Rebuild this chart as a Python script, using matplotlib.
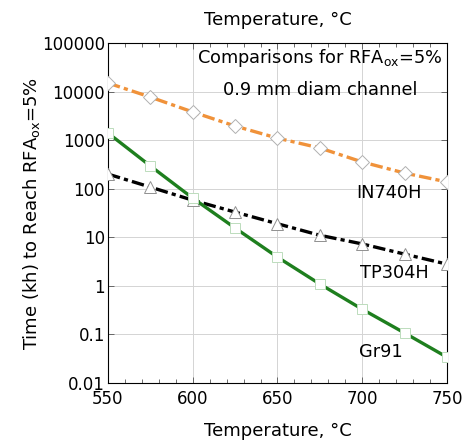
import matplotlib
matplotlib.use("Agg")
import matplotlib.pyplot as plt
from matplotlib.ticker import MultipleLocator, FixedLocator, NullLocator

temps = [550, 575, 600, 625, 650, 675, 700, 725, 750]
in740h = [15000, 7700, 3800, 1950, 1100, 690, 355, 210, 138]
tp304h = [200, 108, 58, 33, 19, 11, 7.3, 4.5, 2.8]
gr91 = [1400, 294, 64, 15.5, 3.9, 1.09, 0.33, 0.107, 0.034]

x_ticks = [550, 600, 650, 700, 750]
y_ticks = [0.01, 0.1, 1, 10, 100, 1000, 10000, 100000]
y_tick_labels = ["0.01", "0.1", "1", "10", "100", "1000", "10000", "100000"]

plt.rcParams['font.family'] = ['DejaVu Sans']
plt.rcParams['lines.scale_dashes'] = False


def main():
    fig = plt.figure(figsize=(4.77, 4.41), dpi=100)
    ax = fig.add_axes([0.2264, 0.1315, 0.7107, 0.771])

    ax.plot(temps, in740h, color='#F0923A', lw=2.4, dashes=(9, 3, 3, 3),
            marker='D', ms=7.5, mfc='white', mec='#b0b0b0', mew=0.7, zorder=3)
    ax.plot(temps, tp304h, color='black', lw=2.4, dashes=(9, 3, 3, 3),
            marker='^', ms=8, mfc='white', mec='#909090', mew=0.7, zorder=3)
    ax.plot(temps, gr91, color='#1E7F1E', lw=2.4,
            marker='s', ms=7.5, mfc='white', mec='#bcdcbc', mew=0.7, zorder=3)

    ax.set_yscale('log')
    ax.set_xlim(550, 750)
    ax.set_ylim(0.01, 100000)
    ax.xaxis.set_major_locator(FixedLocator(x_ticks))
    ax.xaxis.set_minor_locator(MultipleLocator(10))
    ax.yaxis.set_major_locator(FixedLocator(y_ticks))
    ax.yaxis.set_minor_locator(NullLocator())
    ax.set_yticklabels(y_tick_labels)
    ax.tick_params(which='both', direction='in', top=True, right=True,
                   labelsize=12, width=0.6, color='#555555')
    ax.tick_params(axis='x', pad=5)
    ax.tick_params(axis='y', pad=2)
    ax.tick_params(which='major', length=4)
    ax.tick_params(which='minor', length=3)
    ax.grid(True, which='major', color='#d4d4d4', lw=0.7)

    for s in ax.spines.values():
        s.set_linewidth(0.8)

    ax.set_xlabel("Temperature, °C", fontsize=13, labelpad=10)
    ax.set_ylabel("Time (kh) to Reach RFA$_{\\mathregular{ox}}$=5%", fontsize=13)
    ax.yaxis.set_label_coords(-0.195, 0.5)
    fig.text(0.583, 0.955, "Temperature, °C", fontsize=13, ha='center', va='center')

    ax.text(0.625, 0.956, "Comparisons for RFA$_{\\mathregular{ox}}$=5%", transform=ax.transAxes,
            fontsize=12.8, ha='center', va='center')
    ax.text(0.625, 0.862, "0.9 mm diam channel", transform=ax.transAxes,
            fontsize=12.8, ha='center', va='center')
    ax.text(0.829, 0.559, "IN740H", transform=ax.transAxes, fontsize=12.8, ha='center', va='center')
    ax.text(0.844, 0.324, "TP304H", transform=ax.transAxes, fontsize=12.8, ha='center', va='center')
    ax.text(0.805, 0.091, "Gr91", transform=ax.transAxes, fontsize=12.8, ha='center', va='center')

    fig.savefig("out.png", dpi=100)


if __name__ == '__main__':
    main()
